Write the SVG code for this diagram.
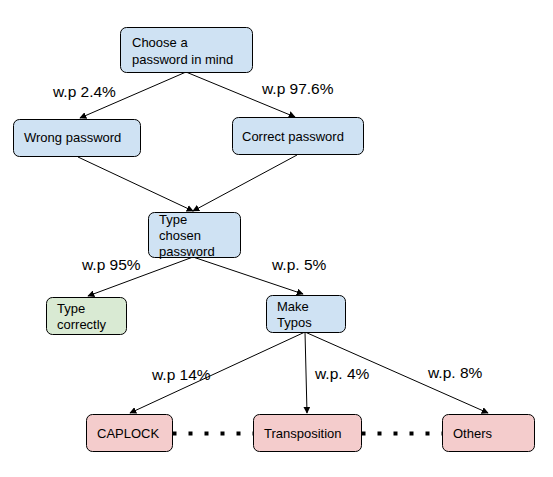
<svg xmlns="http://www.w3.org/2000/svg" width="553" height="477" viewBox="0 0 553 477">
<defs>
<marker id="arr" viewBox="0 0 10 10" refX="9" refY="5" markerWidth="7" markerHeight="7" markerUnits="userSpaceOnUse" orient="auto">
<path d="M0,0 L10,5 L0,10 z" fill="#000"/>
</marker>
<style>
.n{stroke:#000;stroke-width:1;}
.blue{fill:#cfe2f3;}
.green{fill:#d9ead3;}
.red{fill:#f4cccc;}
.t{font-family:"Liberation Sans",Arial,sans-serif;font-size:13px;fill:#000;}
.lbl{font-family:"Liberation Sans",Arial,sans-serif;font-size:15.5px;fill:#000;}
.c{stroke:#000;stroke-width:1;fill:none;marker-end:url(#arr);}
.d{stroke:#000;stroke-width:4;stroke-dasharray:4 12;fill:none;}
</style>
</defs>
<rect width="553" height="477" fill="#fff"/>
<g id="connectors">
<line class="c" x1="186" y1="72" x2="80" y2="118"/>
<line class="c" x1="186" y1="72" x2="295" y2="117"/>
<line class="c" x1="78" y1="157" x2="193" y2="211"/>
<line class="c" x1="297" y1="155" x2="193" y2="211"/>
<line class="c" x1="193" y1="257" x2="88" y2="296"/>
<line class="c" x1="193" y1="257" x2="303" y2="294"/>
<line class="c" x1="305" y1="332" x2="130" y2="413"/>
<line class="c" x1="305" y1="332" x2="307" y2="413"/>
<line class="c" x1="305" y1="332" x2="488" y2="413"/>
<line class="d" x1="172.5" y1="433.5" x2="253" y2="433.5"/>
<line class="d" x1="361.5" y1="433.5" x2="442" y2="433.5"/>
</g>
<g id="labels">
<text class="lbl" x="53" y="97">w.p 2.4%</text>
<text class="lbl" x="262" y="94">w.p 97.6%</text>
<text class="lbl" x="82" y="270">w.p 95%</text>
<text class="lbl" x="272" y="270">w.p. 5%</text>
<text class="lbl" x="152" y="380">w.p 14%</text>
<text class="lbl" x="315" y="379">w.p. 4%</text>
<text class="lbl" x="428" y="378">w.p. 8%</text>
</g>
<g id="choose">
<rect class="n blue" x="120.5" y="27.5" width="132" height="45" rx="6"/>
<text class="t" x="132" y="47">Choose a</text>
<text class="t" x="132" y="64">password in mind</text>
</g>
<g id="wrong">
<rect class="n blue" x="13.5" y="119.5" width="127" height="37" rx="6"/>
<text class="t" x="24" y="142">Wrong password</text>
</g>
<g id="correct">
<rect class="n blue" x="232.5" y="117.5" width="131" height="37" rx="6"/>
<text class="t" x="242" y="141">Correct password</text>
</g>
<g id="type">
<rect class="n blue" x="148.5" y="212.5" width="92" height="45" rx="6"/>
<text class="t" x="159" y="224">Type</text>
<text class="t" x="159" y="240">chosen</text>
<text class="t" x="159" y="256">password</text>
</g>
<g id="typecorrectly">
<rect class="n green" x="46.5" y="297.5" width="80" height="37" rx="6"/>
<text class="t" x="57" y="313">Type</text>
<text class="t" x="57" y="329">correctly</text>
</g>
<g id="typos">
<rect class="n blue" x="266.5" y="295.5" width="79" height="37" rx="6"/>
<text class="t" x="277" y="311">Make</text>
<text class="t" x="277" y="327">Typos</text>
</g>
<g id="caplock">
<rect class="n red" x="86.5" y="414.5" width="86" height="37" rx="6"/>
<text class="t" x="97" y="438">CAPLOCK</text>
</g>
<g id="transposition">
<rect class="n red" x="253.5" y="414.5" width="108" height="37" rx="6"/>
<text class="t" x="264" y="438">Transposition</text>
</g>
<g id="others">
<rect class="n red" x="442.5" y="414.5" width="92" height="37" rx="6"/>
<text class="t" x="453" y="438">Others</text>
</g>
</svg>
